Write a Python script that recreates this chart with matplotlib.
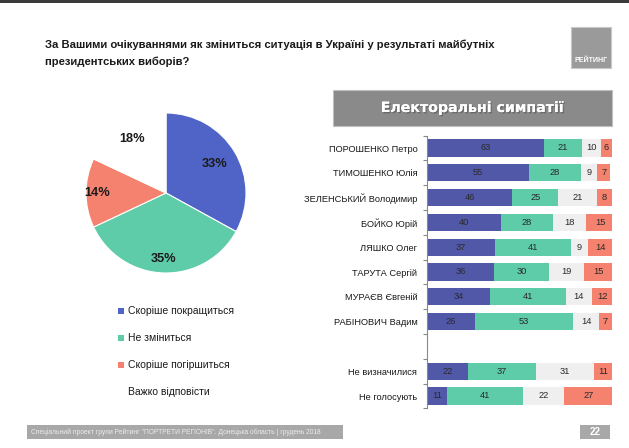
import matplotlib
matplotlib.use("Agg")
import matplotlib.pyplot as plt
from matplotlib.patches import Rectangle
import matplotlib.patheffects as pe
import numpy as np

W, H = 629, 448
plt.rcParams['font.family'] = ['Liberation Sans', 'DejaVu Sans']

title_lines = ["За Вашими очікуваннями як зміниться ситуація в Україні у результаті майбутніх",
               "президентських виборів?"]
pie_labels = ["Скоріше покращиться", "Не зміниться", "Скоріше погіршиться", "Важко відповісти"]
pie_values = [33, 35, 14, 18]

candidates = ["ПОРОШЕНКО Петро", "ТИМОШЕНКО Юлія", "ЗЕЛЕНСЬКИЙ Володимир", "БОЙКО Юрій",
              "ЛЯШКО Олег", "ТАРУТА Сергій", "МУРАЄВ Євгеній", "РАБІНОВИЧ Вадим",
              "", "Не визначилися", "Не голосують"]
better = [63, 55, 46, 40, 37, 36, 34, 26, 0, 22, 11]
same = [21, 28, 25, 28, 41, 30, 41, 53, 0, 37, 41]
hard = [10, 9, 21, 18, 9, 19, 14, 14, 0, 31, 22]
worse = [6, 7, 8, 15, 14, 15, 12, 7, 0, 11, 27]

header = "Електоральні симпатії"
footer = 'Спеціальний проект групи Рейтинг "ПОРТРЕТИ РЕГІОНІВ". Донецька область | грудень 2018'
page = "22"
logo = "РЕЙТИНГ"

c_blue_pie = "#4F64C6"
c_blue_bar = "#5158A8"
c_green = "#5ECBA9"
c_salmon = "#F4826F"
c_gray = "#EFEFEF"

fig = plt.figure(figsize=(W / 100, H / 100), dpi=100)
fig.patch.set_facecolor("white")

def fx(x): return x / W
def fy(y): return 1 - y / H

# top dark border
fig.add_artist(Rectangle((0, fy(3)), 1, 3 / H, transform=fig.transFigure, color="#3A3A3A", lw=0))

# title
fig.text(fx(45), fy(45), title_lines[0], fontsize=8.1, fontweight="bold", va="center", ha="left",
         color="#1A1A1A")
fig.text(fx(45), fy(62), title_lines[1], fontsize=8.1, fontweight="bold", va="center", ha="left",
         color="#1A1A1A")

# logo
fig.add_artist(Rectangle((fx(571), fy(68)), 40 / W, 41 / H, transform=fig.transFigure,
                         facecolor="#9A9A9A", edgecolor="#C8C8C8", lw=0.8))
fig.text(fx(591), fy(61), logo, fontsize=5, fontweight="bold", color="white", ha="center", va="center")

# pie
axp = fig.add_axes([fx(86), fy(273), 160 / W, 160 / H])
wedges, texts, autotexts = axp.pie(pie_values, colors=[c_blue_pie, c_green, c_salmon, "white"],
                                   startangle=90, counterclock=False, autopct="%d%%", pctdistance=0.78,
                                   wedgeprops=dict(linewidth=0.8, edgecolor="white"),
                                   textprops=dict(fontsize=9.2, fontweight="bold", color="#1A1A1A"))
label_r = [0.70, 0.82, 0.86, 0.80]
for wdg, at, r in zip(wedges, autotexts, label_r):
    ang = np.deg2rad((wdg.theta1 + wdg.theta2) / 2)
    at.set_position((r * np.cos(ang), r * np.sin(ang)))
axp.set_xlim(-1, 1)
axp.set_ylim(-1, 1)
axp.set_aspect("equal")
axp.axis("off")

# legend
leg_y = [311, 338, 365, 392]
leg_c = [c_blue_pie, c_green, c_salmon, "white"]
for y, lab, c in zip(leg_y, pie_labels, leg_c):
    fig.add_artist(Rectangle((fx(118), fy(y + 3)), 6 / W, 6 / H, transform=fig.transFigure, color=c, lw=0))
    fig.text(fx(128), fy(y), lab, fontsize=7.5, va="center", ha="left", color="#1A1A1A")

# header box
fig.add_artist(Rectangle((fx(333), fy(126)), 279 / W, 36 / H, transform=fig.transFigure,
                         facecolor="#8A8A8A", edgecolor="#C0C0C0", lw=0.8))
fig.text(fx(472), fy(108), header, fontsize=10.2, fontweight="bold", color="white", ha="center", va="center",
         family=['DejaVu Sans'],
         path_effects=[pe.withSimplePatchShadow(offset=(1, -1), shadow_rgbFace="#555555", alpha=0.6), pe.Normal()])

# bars
n = len(candidates)
top_px = 148 - 12.4
bot_px = 396 + 12.4
axb = fig.add_axes([fx(427), fy(bot_px), 185 / W, (bot_px - top_px) / H])
y = np.arange(n)
hgt = 0.7
b = np.array(better); s = np.array(same); h = np.array(hard); w = np.array(worse)
mask = np.array([c != "" for c in candidates])
lefts = [np.zeros(n), b, b + s, b + s + h]
vals_all = [b, s, h, w]
cols = [c_blue_bar, c_green, c_gray, c_salmon]
for vals, left, col in zip(vals_all, lefts, cols):
    axb.barh(y[mask], vals[mask], left=left[mask], height=hgt, color=col, lw=0)
    for yi, v, l in zip(y[mask], vals[mask], left[mask]):
        axb.text(l + v / 2, yi, str(v), ha="center", va="center", fontsize=6.7, color="#2A2A2A")
axb.set_xlim(0, 100)
axb.set_ylim(n - 0.5, -0.5)
axb.set_yticks(y)
axb.set_yticklabels(candidates, fontsize=6.7, color="#1A1A1A")
axb.tick_params(axis="y", which="major", length=0, pad=7)
axb.set_yticks(np.arange(-0.5, n, 1), minor=True)
axb.tick_params(axis="y", which="minor", length=3, color="#888888", width=0.8)
axb.set_xticks([])
for sp in ["top", "right", "bottom"]:
    axb.spines[sp].set_visible(False)
axb.spines["left"].set_color("#888888")
axb.spines["left"].set_linewidth(0.8)
axb.patch.set_alpha(0)

# footer
fig.add_artist(Rectangle((fx(27), fy(439)), 316 / W, 14 / H, transform=fig.transFigure,
                         facecolor="#A8A8A8", lw=0))
fig.text(fx(31), fy(432), footer, fontsize=4.8, color="#EDEDED", ha="left", va="center")
fig.add_artist(Rectangle((fx(580), fy(439)), 30 / W, 14 / H, transform=fig.transFigure,
                         facecolor="#A8A8A8", lw=0))
fig.text(fx(595), fy(432), page, fontsize=7, fontweight="bold", color="white", ha="center", va="center")

fig.savefig("out.png", dpi=100, facecolor="white")
